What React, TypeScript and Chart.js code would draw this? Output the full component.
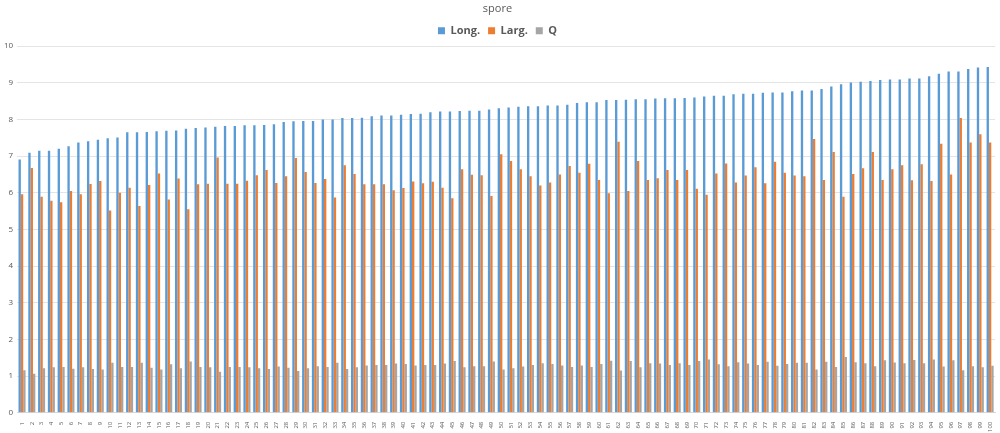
import React, { useEffect, useRef } from "react";
import { Chart, registerables } from "chart.js";

Chart.register(...registerables);

const categories: string[] = Array.from({ length: 100 }, (_, i) => String(i + 1));

const longValues: number[] = [
  6.91, 7.09, 7.15, 7.15, 7.2, 7.27, 7.37, 7.41, 7.45, 7.49,
  7.51, 7.65, 7.65, 7.66, 7.68, 7.69, 7.7, 7.75, 7.77, 7.78,
  7.8, 7.82, 7.82, 7.84, 7.84, 7.85, 7.87, 7.93, 7.95, 7.96,
  7.96, 8.0, 8.0, 8.04, 8.04, 8.05, 8.09, 8.11, 8.11, 8.13,
  8.15, 8.16, 8.2, 8.22, 8.22, 8.23, 8.24, 8.24, 8.27, 8.31,
  8.33, 8.35, 8.36, 8.36, 8.38, 8.38, 8.4, 8.45, 8.47, 8.47,
  8.53, 8.53, 8.54, 8.55, 8.55, 8.57, 8.58, 8.58, 8.59, 8.6,
  8.63, 8.65, 8.65, 8.69, 8.7, 8.7, 8.73, 8.74, 8.74, 8.77,
  8.79, 8.79, 8.83, 8.9, 8.96, 9.01, 9.03, 9.05, 9.08, 9.09,
  9.09, 9.12, 9.12, 9.18, 9.25, 9.31, 9.31, 9.38, 9.42, 9.43,
];

const largValues: number[] = [
  5.96, 6.68, 5.89, 5.78, 5.74, 6.05, 5.96, 6.24, 6.32, 5.52,
  6.0, 6.14, 5.64, 6.21, 6.53, 5.82, 6.39, 5.55, 6.23, 6.25,
  6.96, 6.25, 6.25, 6.33, 6.48, 6.62, 6.27, 6.45, 6.95, 6.57,
  6.27, 6.38, 5.87, 6.75, 6.51, 6.23, 6.23, 6.23, 6.07, 6.13,
  6.31, 6.26, 6.3, 6.14, 5.85, 6.64, 6.49, 6.48, 5.91, 7.05,
  6.87, 6.64, 6.45, 6.2, 6.28, 6.5, 6.73, 6.55, 6.79, 6.35,
  5.99, 7.39, 6.05, 6.87, 6.35, 6.4, 6.62, 6.35, 6.62, 6.11,
  5.95, 6.53, 6.8, 6.28, 6.47, 6.7, 6.26, 6.85, 6.55, 6.47,
  6.45, 7.47, 6.35, 7.11, 5.89, 6.51, 6.67, 7.11, 6.35, 6.64,
  6.75, 6.34, 6.78, 6.32, 7.34, 6.5, 8.04, 7.37, 7.6, 7.37,
];

const qValues: number[] = [
  1.16, 1.06, 1.21, 1.24, 1.25, 1.2, 1.24, 1.19, 1.18, 1.36,
  1.25, 1.25, 1.36, 1.23, 1.18, 1.32, 1.21, 1.4, 1.25, 1.24,
  1.12, 1.25, 1.25, 1.24, 1.21, 1.19, 1.26, 1.23, 1.14, 1.21,
  1.27, 1.25, 1.36, 1.19, 1.24, 1.29, 1.3, 1.3, 1.34, 1.33,
  1.29, 1.3, 1.3, 1.34, 1.41, 1.24, 1.27, 1.27, 1.4, 1.18,
  1.21, 1.26, 1.3, 1.35, 1.33, 1.29, 1.25, 1.29, 1.25, 1.33,
  1.42, 1.15, 1.41, 1.24, 1.35, 1.34, 1.3, 1.35, 1.3, 1.41,
  1.45, 1.32, 1.27, 1.38, 1.34, 1.3, 1.39, 1.28, 1.33, 1.36,
  1.36, 1.18, 1.39, 1.25, 1.52, 1.38, 1.35, 1.27, 1.43, 1.37,
  1.35, 1.44, 1.35, 1.45, 1.26, 1.43, 1.16, 1.27, 1.24, 1.28,
];

const yTicks: number[] = [0, 1, 2, 3, 4, 5, 6, 7, 8, 9, 10];

const FONT = "'Open Sans', 'Liberation Sans', sans-serif";
const TEXT = "#595959";

export default function App() {
  const ref = useRef<HTMLCanvasElement | null>(null);

  useEffect(() => {
    if (!ref.current) return;
    const chart = new Chart(ref.current, {
      type: "bar",
      data: {
        labels: categories,
        datasets: [
          { label: "Long.", data: longValues, backgroundColor: "#5B9BD5", borderWidth: 0 },
          { label: "Larg.", data: largValues, backgroundColor: "#ED7D31", borderWidth: 0 },
          { label: "Q", data: qValues, backgroundColor: "#A5A5A5", borderWidth: 0 },
        ],
      },
      options: {
        animation: false,
        responsive: true,
        maintainAspectRatio: false,
        datasets: { bar: { categoryPercentage: 0.72, barPercentage: 1.0 } },
        layout: { padding: { left: 0, right: 5, top: 0, bottom: 0 } },
        plugins: {
          title: {
            display: true,
            text: "spore",
            color: TEXT,
            font: { family: FONT, size: 11, weight: "normal" },
            padding: { top: 2, bottom: 2 },
          },
          legend: {
            display: true,
            position: "top",
            labels: {
              color: TEXT,
              font: { family: FONT, size: 11, weight: "bold" },
              boxWidth: 7,
              boxHeight: 7,
              padding: 8,
            },
          },
          tooltip: { enabled: false },
        },
        scales: {
          x: {
            grid: { display: false },
            border: { display: true, color: "#D9D9D9" },
            ticks: {
              color: TEXT,
              font: { family: FONT, size: 6 },
              autoSkip: false,
              maxRotation: 90,
              minRotation: 90,
              padding: 1,
            },
          },
          y: {
            min: 0,
            max: 10,
            afterBuildTicks: (axis: any) => {
              axis.ticks = yTicks.map((v) => ({ value: v }));
            },
            grid: { color: "#E4E4E4", drawTicks: false },
            border: { display: false },
            ticks: {
              color: TEXT,
              font: { family: FONT, size: 8 },
              padding: 4,
            },
          },
        },
      },
    });
    return () => chart.destroy();
  }, []);

  return (
    <div style={{ position: "fixed", left: 0, top: 0, width: 1000, height: 433, background: "#fff" }}>
      <canvas ref={ref} />
    </div>
  );
}
